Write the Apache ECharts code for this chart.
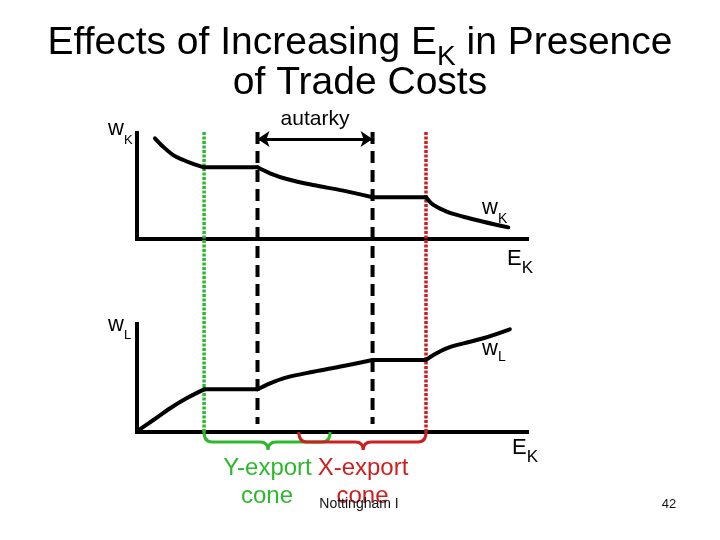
<!DOCTYPE html>
<html><head><meta charset="utf-8">
<script src="https://cdn.jsdelivr.net/npm/echarts@6/dist/echarts.min.js"></script>
<style>html,body{margin:0;padding:0;background:#fff}#c{width:720px;height:540px}</style>
</head><body><div id="c"></div>
<script>
// E_K runs 0..100 on both panels; wages run 0..100 on their own panels.
// Curves are split into pieces so flat stretches stay straight.
const wKSegments = [
  [[4.6,95],[6.7,87.1],[9.3,79.2],[11.9,74.5],[14.4,70.8],[17.2,67.6]],
  [[17.2,67.6],[30.9,67.6]],
  [[30.9,67.6],[34.1,62],[38.4,56.6],[45.2,50.9],[52.9,45.6],[60.4,39.4]],
  [[60.4,39.4],[74.1,39.4]],
  [[74.1,39.4],[76,32.1],[79.4,25.8],[83.7,21],[88.8,16.3],[95.2,11]]
];
const wLSegments = [
  [[0.3,1.5],[4.2,11.1],[8.5,22],[12.7,31.2],[17.2,39.5]],
  [[17.2,39.5],[30.9,39.5]],
  [[30.9,39.5],[34.1,45.1],[38.4,50.6],[45.2,55.8],[52.9,61.1],[60.4,66.7]],
  [[60.4,66.7],[74.1,66.7]],
  [[74.1,66.7],[76,71.3],[79.4,77.5],[83.7,82.1],[88.8,86.8],[95.6,95.1]]
];
const tradeEdges = [17.2, 74.1];     // Y-export cone edge, X-export cone edge
const autarkyEdges = [30.9, 60.4];
const braces = [[17.2, 49.5, 33.6], [41.5, 74.1, 58.0]]; // [from, to, tip]
const coneLabels = [['Y-export', 'cone'], ['X-export', 'cone']];

const GREEN = '#2db82d', RED = '#cc1f1f';
const FONT = '"Liberation Sans", Arial, sans-serif';
const mctx = document.createElement('canvas').getContext('2d');
function tw(t, s) { mctx.font = s + 'px ' + FONT; return mctx.measureText(t).width; }
function label(pieces, x, baseline, align, color) {
  const total = pieces.reduce((a, p) => a + tw(p[0], p[1]), 0);
  let cx = align === 'center' ? x - total / 2 : x;
  const out = [];
  pieces.forEach(p => {
    out.push({
      type: 'text', x: cx, y: baseline + (p[2] || 0) - 0.35 * p[1], silent: true, z: 100,
      style: { text: p[0], font: p[1] + 'px ' + FONT, fill: color || '#000',
        align: 'left', verticalAlign: 'middle', textAlign: 'left', textVerticalAlign: 'middle' }
    });
    cx += tw(p[0], p[1]);
  });
  return out;
}

const chart = echarts.init(document.getElementById('c'), null, { renderer: 'canvas' });
const axisBase = (i) => ({
  type: 'value', gridIndex: i, min: 0, max: 100, show: i < 2,
  axisLine: { show: true, onZero: false, lineStyle: { color: '#000', width: 4, cap: 'square' } },
  axisTick: { show: false }, axisLabel: { show: false }, splitLine: { show: false }
});

const series = [];
function curve(segs, gi) {
  segs.forEach(s => series.push({
    type: 'line', xAxisIndex: gi, yAxisIndex: gi, data: s, symbol: 'none',
    smooth: s.length > 2 ? 0.35 : false, silent: true, z: 5,
    lineStyle: { color: '#000', width: 4, cap: 'round', join: 'round' }
  }));
}
curve(wKSegments, 0);
curve(wLSegments, 1);

function vline(x, yEnd, color, dash, width) {
  series.push({
    type: 'line', xAxisIndex: 2, yAxisIndex: 2, data: [[x, 100], [x, yEnd]], symbol: 'none',
    silent: true, z: 4, lineStyle: { color: color, width: width, type: dash }
  });
}
vline(tradeEdges[0], 0, GREEN, [3, 1.5], 3.5);
vline(tradeEdges[1], 0, RED, [3, 1.5], 3.5);
vline(autarkyEdges[0], 2.7, '#000', [12, 7], 4);
vline(autarkyEdges[1], 2.7, '#000', [12, 7], 4);

series.push({
  type: 'line', xAxisIndex: 2, yAxisIndex: 2, data: [], silent: true,
  markLine: {
    silent: true, symbol: ['arrow', 'arrow'], symbolSize: 12, label: { show: false },
    lineStyle: { color: '#000', width: 3, type: 'solid' }, emphasis: { disabled: true },
    data: [[{ coord: [autarkyEdges[0], 97.7] }, { coord: [autarkyEdges[1], 97.7] }]]
  }
});

series.push({
  type: 'custom', xAxisIndex: 2, yAxisIndex: 2, silent: true, z: 6, clip: false,
  data: braces.map((b, i) => [b[0], b[1], b[2], i]),
  encode: { x: [0, 1, 2] },
  renderItem: function (params, api) {
    const a = api.coord([api.value(0), 0]), b = api.coord([api.value(1), 0]), m = api.coord([api.value(2), 0]);
    const x1 = a[0], x2 = b[0], xm = m[0], y0 = a[1], yh = y0 + 10, yt = y0 + 18, r = 8;
    const d = `M${x1},${y0} Q${x1},${yh} ${x1 + r},${yh} L${xm - r},${yh} Q${xm},${yh} ${xm},${yt} ` +
      `Q${xm},${yh} ${xm + r},${yh} L${x2 - r},${yh} Q${x2},${yh} ${x2},${y0}`;
    return { type: 'path', shape: { pathData: d },
      style: { fill: 'none', stroke: api.value(3) === 0 ? GREEN : RED, lineWidth: 3 } };
  }
});

let g = [];
g = g.concat(label([['Effects of Increasing E', 39], ['K', 28, 10], [' in Presence', 39]], 360, 57, 'center'));
g = g.concat(label([['of Trade Costs', 39]], 360, 97, 'center'));
g = g.concat(label([['autarky', 21]], 315, 127, 'center'));
g = g.concat(label([['w', 22], ['K', 13, 8]], 108, 137, 'left'));
g = g.concat(label([['w', 22], ['L', 13, 7]], 108, 333, 'left'));
g = g.concat(label([['w', 22], ['K', 14, 8]], 482, 216, 'left'));
g = g.concat(label([['E', 22], ['K', 17, 7]], 507, 267, 'left'));
g = g.concat(label([['w', 22], ['L', 14, 5]], 482, 357, 'left'));
g = g.concat(label([['E', 22], ['K', 17, 7]], 512, 456, 'left'));
g = g.concat(label([[coneLabels[0][0], 24]], 267.5, 477, 'center', GREEN));
g = g.concat(label([[coneLabels[0][1], 24]], 267, 505, 'center', GREEN));
g = g.concat(label([[coneLabels[1][0], 24]], 363, 477, 'center', RED));
g = g.concat(label([[coneLabels[1][1], 24]], 362.5, 505, 'center', RED));
g = g.concat(label([['Nottingham I', 14]], 359, 509, 'center', '#111'));
g = g.concat(label([['42', 13]], 669, 509, 'center', '#111'));

chart.setOption({
  animation: false,
  backgroundColor: '#fff',
  grid: [
    { left: 137, top: 133, width: 390, height: 106 },
    { left: 137, top: 324, width: 390, height: 108 },
    { left: 137, top: 132, width: 390, height: 300 }
  ],
  xAxis: [0, 1, 2].map(i => Object.assign(axisBase(i), { position: 'bottom' })),
  yAxis: [0, 1, 2].map(i => Object.assign(axisBase(i), { position: 'left' })),
  series: series,
  graphic: { elements: g }
});
</script></body></html>
